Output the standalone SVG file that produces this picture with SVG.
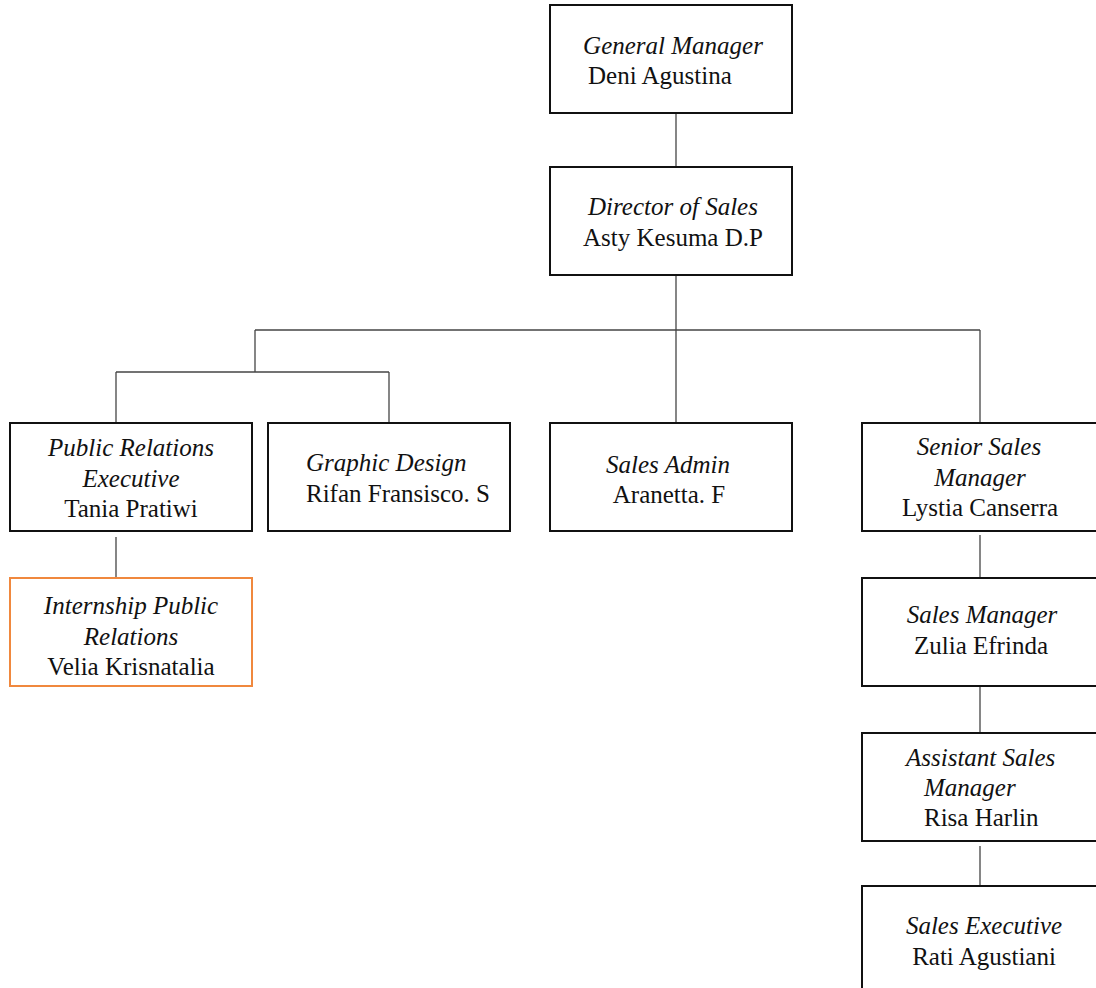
<svg xmlns="http://www.w3.org/2000/svg" width="1096" height="988" viewBox="0 0 1096 988" font-family="'Liberation Serif', 'Times New Roman', Tinos, 'DejaVu Serif', serif">
<style>
.box{fill:#fff;stroke:#111;stroke-width:2}
.intern{fill:#fff;stroke:#F0883E;stroke-width:2}
text{font-family:'Liberation Serif','Times New Roman',Tinos,'DejaVu Serif',serif;font-size:25px;fill:#111}
.t{font-style:italic}
.c{text-anchor:middle}
.conn line{stroke:#444;stroke-width:1.3}
</style>
<rect width="1096" height="988" fill="#fff"/>
<g class="conn" id="connectors">
<line x1="676" y1="113" x2="676" y2="167"/>
<line x1="676" y1="275" x2="676" y2="422"/>
<line x1="255" y1="330" x2="980" y2="330"/>
<line x1="255" y1="330" x2="255" y2="372"/>
<line x1="116" y1="372" x2="389" y2="372"/>
<line x1="116" y1="372" x2="116" y2="423"/>
<line x1="389" y1="372" x2="389" y2="423"/>
<line x1="980" y1="330" x2="980" y2="422"/>
<line x1="116" y1="537" x2="116" y2="586"/>
<line x1="980" y1="535" x2="980" y2="578"/>
<line x1="980" y1="687" x2="980" y2="733"/>
<line x1="980" y1="846" x2="980" y2="890"/>
</g>
<g id="general-manager">
<rect class="box" x="550" y="5" width="242" height="108"/>
<text class="t c" x="673" y="54">General Manager</text>
<text x="588" y="84">Deni Agustina</text>
</g>
<g id="director">
<rect class="box" x="550" y="167" width="242" height="108"/>
<text class="t c" x="673" y="215">Director of Sales</text>
<text class="c" x="673" y="246">Asty Kesuma D.P</text>
</g>
<g id="pr-exec">
<rect class="box" x="10" y="423" width="242" height="108"/>
<text class="t c" x="131" y="456">Public Relations</text>
<text class="t c" x="131" y="487">Executive</text>
<text class="c" x="131" y="517">Tania Pratiwi</text>
</g>
<g id="graphic">
<rect class="box" x="268" y="423" width="242" height="108"/>
<text class="t" x="306" y="471">Graphic Design</text>
<text x="306" y="502">Rifan Fransisco. S</text>
</g>
<g id="sales-admin">
<rect class="box" x="550" y="423" width="242" height="108"/>
<text class="t c" x="668" y="473">Sales Admin</text>
<text class="c" x="669" y="503">Aranetta. F</text>
</g>
<g id="senior-sales">
<rect class="box" x="862" y="423" width="240" height="108"/>
<text class="t c" x="979" y="455">Senior Sales</text>
<text class="t c" x="980" y="486">Manager</text>
<text class="c" x="980" y="516">Lystia Canserra</text>
</g>
<g id="internship">
<rect class="intern" x="10" y="578" width="242" height="108"/>
<text class="t c" x="131" y="614">Internship Public</text>
<text class="t c" x="131" y="645">Relations</text>
<text class="c" x="131" y="675">Velia Krisnatalia</text>
</g>
<g id="sales-manager">
<rect class="box" x="862" y="578" width="240" height="108"/>
<text class="t c" x="982" y="623">Sales Manager</text>
<text class="c" x="981" y="654">Zulia Efrinda</text>
</g>
<g id="assistant">
<rect class="box" x="862" y="733" width="240" height="108"/>
<text class="t" x="906" y="766">Assistant Sales</text>
<text class="t" x="924" y="796">Manager</text>
<text x="924" y="826">Risa Harlin</text>
</g>
<g id="sales-exec">
<rect class="box" x="862" y="886" width="240" height="120"/>
<text class="t c" x="984" y="934">Sales Executive</text>
<text class="c" x="984" y="965">Rati Agustiani</text>
</g>
</svg>
